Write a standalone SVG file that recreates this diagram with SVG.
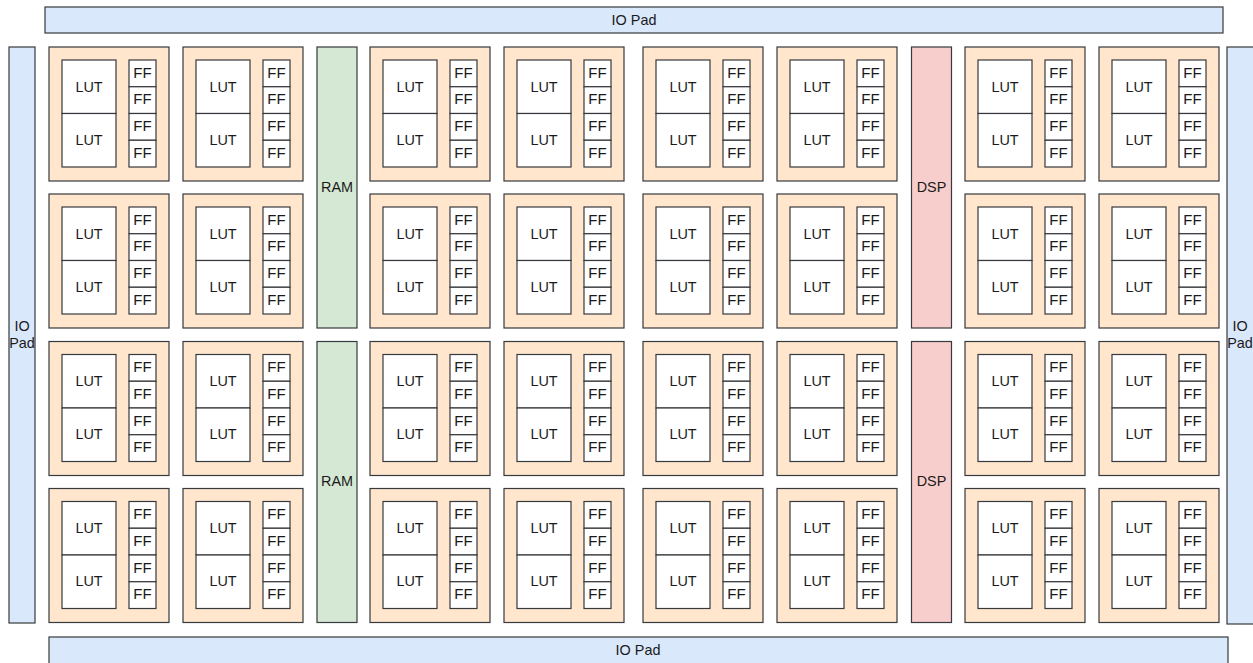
<svg xmlns="http://www.w3.org/2000/svg" xmlns:xlink="http://www.w3.org/1999/xlink" width="1253" height="663" viewBox="0 0 1253 663">
<style>
.pad{fill:#dae8fc;stroke:#36393d;stroke-width:1.2}
.clb{fill:#ffe6cc;stroke:#36393d;stroke-width:1.2}
.cell{fill:#ffffff;stroke:#36393d;stroke-width:1.2}
.ram{fill:#d5e8d4;stroke:#36393d;stroke-width:1.2}
.dsp{fill:#f8cecc;stroke:#36393d;stroke-width:1.2}
text{font-family:"Liberation Sans",Arial,sans-serif;font-size:14.4px;fill:#1a1a1a;text-anchor:middle}
.ff{font-size:15px}
</style>
<defs>
<g id="clb-tpl">
<rect class="clb" x="0" y="0" width="120" height="134"/>
<rect class="cell" x="13" y="13" width="54" height="53.5"/>
<rect class="cell" x="13" y="66.5" width="54" height="53.5"/>
<rect class="cell" x="80" y="13" width="27" height="26.75"/>
<rect class="cell" x="80" y="39.75" width="27" height="26.75"/>
<rect class="cell" x="80" y="66.5" width="27" height="26.75"/>
<rect class="cell" x="80" y="93.25" width="27" height="26.75"/>
<text x="40" y="44.5">LUT</text>
<text x="40" y="97.8">LUT</text>
<text class="ff" x="93.5" y="30.5">FF</text>
<text class="ff" x="93.5" y="57.2">FF</text>
<text class="ff" x="93.5" y="84">FF</text>
<text class="ff" x="93.5" y="110.7">FF</text>
</g>
</defs>
<g id="io-top"><rect class="pad" x="45" y="7" width="1178" height="26"/><text x="634" y="24.5">IO Pad</text></g>
<g id="io-bottom"><rect class="pad" x="49" y="637" width="1179" height="30"/><text x="638" y="654.5">IO Pad</text></g>
<g id="io-left"><rect class="pad" x="9" y="47" width="26" height="576"/><text x="22" y="330.5">IO</text><text x="22" y="348">Pad</text></g>
<g id="io-right"><rect class="pad" x="1227" y="47" width="30" height="577"/><text x="1240" y="330.5">IO</text><text x="1240" y="348">Pad</text></g>
<g id="ram-1"><rect class="ram" x="317" y="47" width="40" height="281"/><text x="337" y="191.5">RAM</text></g>
<g id="ram-2"><rect class="ram" x="317" y="341.5" width="40" height="281"/><text x="337" y="486">RAM</text></g>
<g id="dsp-1"><rect class="dsp" x="911.5" y="47" width="40" height="281"/><text x="931.5" y="191.5">DSP</text></g>
<g id="dsp-2"><rect class="dsp" x="911.5" y="341.5" width="40" height="281"/><text x="931.5" y="486">DSP</text></g>
<g id="clb-r1c1"><use xlink:href="#clb-tpl" x="49" y="47"/></g>
<g id="clb-r1c2"><use xlink:href="#clb-tpl" x="183" y="47"/></g>
<g id="clb-r1c3"><use xlink:href="#clb-tpl" x="370" y="47"/></g>
<g id="clb-r1c4"><use xlink:href="#clb-tpl" x="504" y="47"/></g>
<g id="clb-r1c5"><use xlink:href="#clb-tpl" x="643" y="47"/></g>
<g id="clb-r1c6"><use xlink:href="#clb-tpl" x="777" y="47"/></g>
<g id="clb-r1c7"><use xlink:href="#clb-tpl" x="965" y="47"/></g>
<g id="clb-r1c8"><use xlink:href="#clb-tpl" x="1099" y="47"/></g>
<g id="clb-r2c1"><use xlink:href="#clb-tpl" x="49" y="194"/></g>
<g id="clb-r2c2"><use xlink:href="#clb-tpl" x="183" y="194"/></g>
<g id="clb-r2c3"><use xlink:href="#clb-tpl" x="370" y="194"/></g>
<g id="clb-r2c4"><use xlink:href="#clb-tpl" x="504" y="194"/></g>
<g id="clb-r2c5"><use xlink:href="#clb-tpl" x="643" y="194"/></g>
<g id="clb-r2c6"><use xlink:href="#clb-tpl" x="777" y="194"/></g>
<g id="clb-r2c7"><use xlink:href="#clb-tpl" x="965" y="194"/></g>
<g id="clb-r2c8"><use xlink:href="#clb-tpl" x="1099" y="194"/></g>
<g id="clb-r3c1"><use xlink:href="#clb-tpl" x="49" y="341.5"/></g>
<g id="clb-r3c2"><use xlink:href="#clb-tpl" x="183" y="341.5"/></g>
<g id="clb-r3c3"><use xlink:href="#clb-tpl" x="370" y="341.5"/></g>
<g id="clb-r3c4"><use xlink:href="#clb-tpl" x="504" y="341.5"/></g>
<g id="clb-r3c5"><use xlink:href="#clb-tpl" x="643" y="341.5"/></g>
<g id="clb-r3c6"><use xlink:href="#clb-tpl" x="777" y="341.5"/></g>
<g id="clb-r3c7"><use xlink:href="#clb-tpl" x="965" y="341.5"/></g>
<g id="clb-r3c8"><use xlink:href="#clb-tpl" x="1099" y="341.5"/></g>
<g id="clb-r4c1"><use xlink:href="#clb-tpl" x="49" y="488.5"/></g>
<g id="clb-r4c2"><use xlink:href="#clb-tpl" x="183" y="488.5"/></g>
<g id="clb-r4c3"><use xlink:href="#clb-tpl" x="370" y="488.5"/></g>
<g id="clb-r4c4"><use xlink:href="#clb-tpl" x="504" y="488.5"/></g>
<g id="clb-r4c5"><use xlink:href="#clb-tpl" x="643" y="488.5"/></g>
<g id="clb-r4c6"><use xlink:href="#clb-tpl" x="777" y="488.5"/></g>
<g id="clb-r4c7"><use xlink:href="#clb-tpl" x="965" y="488.5"/></g>
<g id="clb-r4c8"><use xlink:href="#clb-tpl" x="1099" y="488.5"/></g>
<g id="connectors"/>
</svg>
